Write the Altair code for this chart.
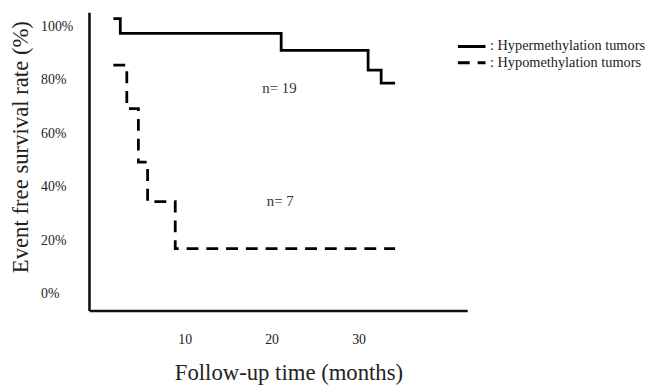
import altair as alt
import pandas as pd

# Kaplan-Meier style step data (months, survival %)
series_names = ["Hypermethylation tumors", "Hypomethylation tumors"]
hyper_t = [1.8, 2.6, 21.1, 31.1, 32.6, 34.2]
hyper_s = [102.8, 97.3, 91.0, 83.6, 78.7, 78.7]
hypo_t = [1.8, 3.35, 4.68, 5.74, 8.92, 34.2]
hypo_s = [85.5, 69.2, 49.2, 34.4, 16.9, 16.9]

ann_text = ["n= 19", "n= 7"]
ann_t = [20.9, 21.0]
ann_s = [76.9, 34.7]

x_ticks = [10, 20, 30]
y_ticks = [0, 20, 40, 60, 80, 100]

rows = []
for i, (t, s) in enumerate(zip(hyper_t, hyper_s)):
    rows.append({"series": series_names[0], "t": t, "s": s, "o": i})
for i, (t, s) in enumerate(zip(hypo_t, hypo_s)):
    rows.append({"series": series_names[1], "t": t, "s": s, "o": i})
df = pd.DataFrame(rows)
ann = pd.DataFrame({"label": ann_text, "t": ann_t, "s": ann_s})

FONT = "Liberation Serif"

xscale = alt.Scale(domain=[-1.0, 42.5], nice=False, zero=False)
yscale = alt.Scale(domain=[-6.3, 105.2], nice=False, zero=False)

xaxis = alt.Axis(
    title="Follow-up time (months)", values=x_ticks, ticks=False, tickSize=0,
    grid=False, domainColor="#111", domainWidth=2.6, labelFont=FONT,
    labelFontSize=14, labelColor="#222", labelPadding=22,
    titleFont=FONT, titleFontSize=23, titleFontWeight="normal", titleColor="#222",
    titleX=202, titleY=63, titleBaseline="middle", titleAnchor="middle",
)
yaxis = alt.Axis(
    title="Event free survival rate (%)", values=y_ticks, ticks=False, tickSize=0,
    grid=False, domainColor="#111", domainWidth=2.6, labelFont=FONT,
    labelFontSize=14, labelColor="#222", labelAlign="left", labelBaseline="middle",
    labelPadding=49, labelExpr="datum.value + '%'",
    titleFont=FONT, titleFontSize=23, titleFontWeight="normal", titleColor="#222",
    titleX=-69, titleY=136, titleBaseline="middle", titleAngle=-90, titleAnchor="middle",
)

lines = alt.Chart(df).mark_line(
    interpolate="step-after", color="black", strokeWidth=2.8, strokeCap="butt", strokeJoin="miter"
).encode(
    x=alt.X("t:Q", scale=xscale, axis=xaxis),
    y=alt.Y("s:Q", scale=yscale, axis=yaxis),
    order="o:Q",
    strokeDash=alt.StrokeDash(
        "series:N",
        scale=alt.Scale(domain=series_names, range=[[1, 0], [12, 8]]),
        legend=alt.Legend(
            title=None, orient="none", legendX=379, legendY=26, padding=0,
            symbolType="M-2,0H2", symbolSize=196, symbolStrokeWidth=3,
            symbolStrokeColor="black", labelFont=FONT, labelFontSize=14.5,
            labelColor="#222", labelOffset=10, rowPadding=1.5,
            labelExpr="': ' + datum.label", labelLimit=300,
        ),
    ),
)

texts = alt.Chart(ann).mark_text(font=FONT, fontSize=15, color="#333").encode(
    x=alt.X("t:Q", scale=xscale),
    y=alt.Y("s:Q", scale=yscale),
    text="label:N",
)

chart = alt.layer(lines, texts).properties(
    width=383, height=302,
    background="white",
    autosize=alt.AutoSizeParams(type="none"),
    padding={"left": 82, "top": 2, "right": 181, "bottom": 75},
).configure_view(stroke=None)

chart.save("out.html", embed_options={"renderer": "svg", "actions": False})
